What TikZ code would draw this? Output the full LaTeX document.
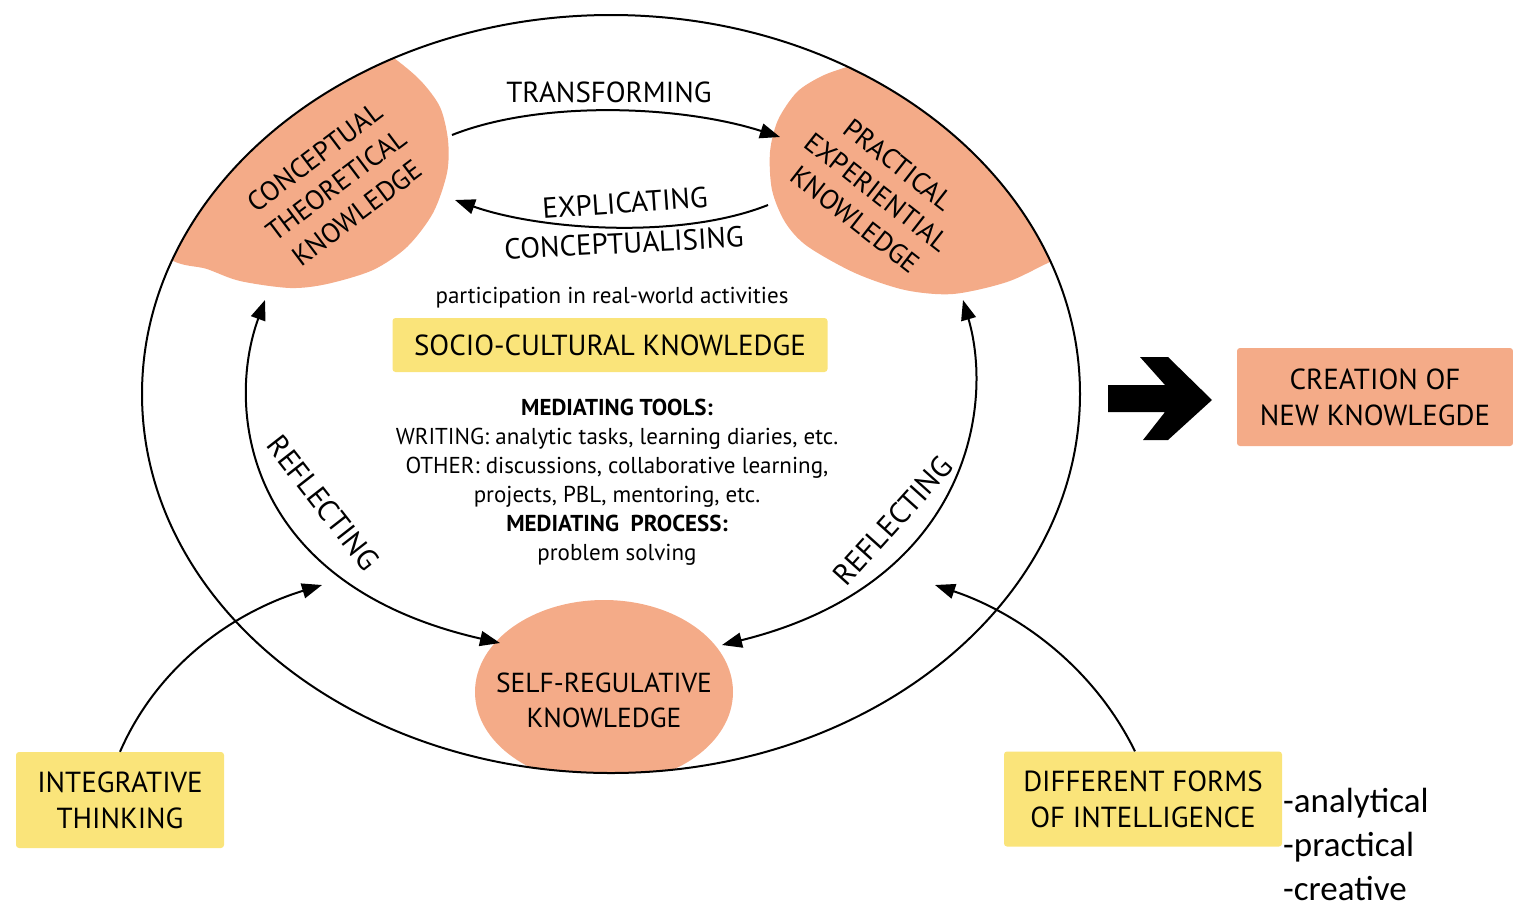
\documentclass[tikz,border=0pt]{standalone}
\usepackage{fontspec}
\setmainfont{PT Sans}
\newfontfamily\listfont{Carlito}
\usetikzlibrary{arrows.meta}
\definecolor{blobc}{RGB}{244,171,136}
\definecolor{boxy}{RGB}{250,228,122}

\begin{document}
\begin{tikzpicture}[x=1pt,y=-1pt,
  every node/.style={inner sep=0pt, align=center},
  blobtxt/.style={font=\fontsize{27.5}{35}\selectfont},
  boxtxt/.style={font=\fontsize{29}{36}\selectfont},
  lbl/.style={font=\fontsize{29}{32}\selectfont},
  ybox/.style={fill=boxy, rounded corners=3pt},
  obox/.style={fill=blobc, rounded corners=3pt},
  flow/.style={line width=2pt, -{Triangle[length=20pt,width=15pt]}},
  flowb/.style={line width=2pt, {Triangle[length=20pt,width=15pt]}-{Triangle[length=20pt,width=15pt]}}]
\useasboundingbox (0,0) rectangle (1513,906);

% knowledge areas, cut by the big loop
\begin{scope}
\clip (611,394) ellipse [x radius=469, y radius=379];
\fill[blobc] plot[smooth cycle] coordinates {(165,255) (207,269) (240,281) (290,288) (327,284) (373,270) (407,247) (433,213) (447,173) (448,140) (440,107) (420,80) (390,55) (340,20) (200,60) (120,180)};
\fill[blobc] plot[smooth cycle] coordinates {(797,92) (778,120) (770,152) (772,190) (785,222) (807,246) (855,273) (905,290) (953,294) (1007,282) (1050,262) (1100,240) (1080,120) (960,40) (880,58) (850,66) (822,76)};
\fill[blobc] (604,692) ellipse [x radius=129, y radius=92];
\end{scope}
\draw[line width=2pt] (611,394) ellipse [x radius=469, y radius=379];

\node[blobtxt, rotate=37] (ctk) at (336,185) {CONCEPTUAL\\THEORETICAL\\KNOWLEDGE};
\node[blobtxt, rotate=-38] (pek) at (877,192) {PRACTICAL\\EXPERIENTIAL\\KNOWLEDGE};
\node[blobtxt] (srk) at (604,700) {SELF-REGULATIVE\\KNOWLEDGE};

% centre
\node[font=\fontsize{23}{26}\selectfont] (part) at (612,298) {participation in real-world activities};
\node[ybox, minimum width=435pt, minimum height=54pt, font=\fontsize{29}{32}\selectfont] (sck) at (610,345) {SOCIO-CULTURAL KNOWLEDGE};
\node[font=\fontsize{23}{29}\selectfont] (tools) at (617,482) {\textbf{MEDIATING TOOLS:}\\
  WRITING: analytic tasks, learning diaries, etc.\\
  OTHER: discussions, collaborative learning,\\
  projects, PBL, mentoring, etc.\\
  \textbf{MEDIATING\ \ PROCESS:}\\
  problem solving};

% side boxes
\node[obox, minimum width=276pt, minimum height=98pt, boxtxt] (cnk) at (1375,397) {CREATION OF\\NEW KNOWLEGDE};
\node[ybox, minimum width=208pt, minimum height=96pt, boxtxt] (it) at (120,800) {INTEGRATIVE\\THINKING};
\node[ybox, minimum width=278pt, minimum height=95pt, boxtxt] (df) at (1143,799) {DIFFERENT FORMS\\OF INTELLIGENCE};
\node[anchor=base west, font=\listfont\fontsize{35}{40}\selectfont] (fa) at (1283,812) {-analytical};
\node[anchor=base west, font=\listfont\fontsize{35}{40}\selectfont] (fp) at (1283,856) {-practical};
\node[anchor=base west, font=\listfont\fontsize{35}{40}\selectfont] (fc) at (1283,900) {-creative};

% big arrow
\fill (1108,385) -- (1165,385) -- (1140,357) -- (1168,357) -- (1212,400) -- (1168,440) -- (1143,440) -- (1165,412) -- (1108,412) -- cycle;

% end points on the areas
\coordinate (ct-out) at (452,135);
\coordinate (pe-in) at (780,137);
\coordinate (pe-out) at (768,205);
\coordinate (ct-in) at (455,200);
\coordinate (ct-bot) at (265,300);
\coordinate (sr-left) at (500,643);
\coordinate (pe-bot) at (963,300);
\coordinate (sr-right) at (722,645);
\coordinate (it-tip) at (322,585);
\coordinate (df-tip) at (935,585);

\draw[flow] (ct-out) .. controls (540,100) and (680,105) .. (pe-in);
\draw[flow] (pe-out) .. controls (680,240) and (540,230) .. (ct-in);
\draw[flowb] (ct-bot) .. controls (225,410) and (245,585) .. (sr-left);
\draw[flowb] (pe-bot) .. controls (995,410) and (965,585) .. (sr-right);
\draw[flow] (it.north) .. controls (160,660) and (240,610) .. (it-tip);
\draw[flow] ([xshift=-8pt]df.north) .. controls (1090,660) and (1010,610) .. (df-tip);

\node[lbl] (trans) at (609,92) {TRANSFORMING};
\node[lbl, rotate=4] (expl) at (625,203) {EXPLICATING};
\node[lbl, rotate=3] (conc) at (624,243) {CONCEPTUALISING};
\node[lbl, font=\fontsize{30}{32}\selectfont, rotate=-52] (refl-l) at (323,503) {REFLECTING};
\node[lbl, font=\fontsize{30}{32}\selectfont, rotate=48] (refl-r) at (893,521) {REFLECTING};
\end{tikzpicture}
\end{document}
